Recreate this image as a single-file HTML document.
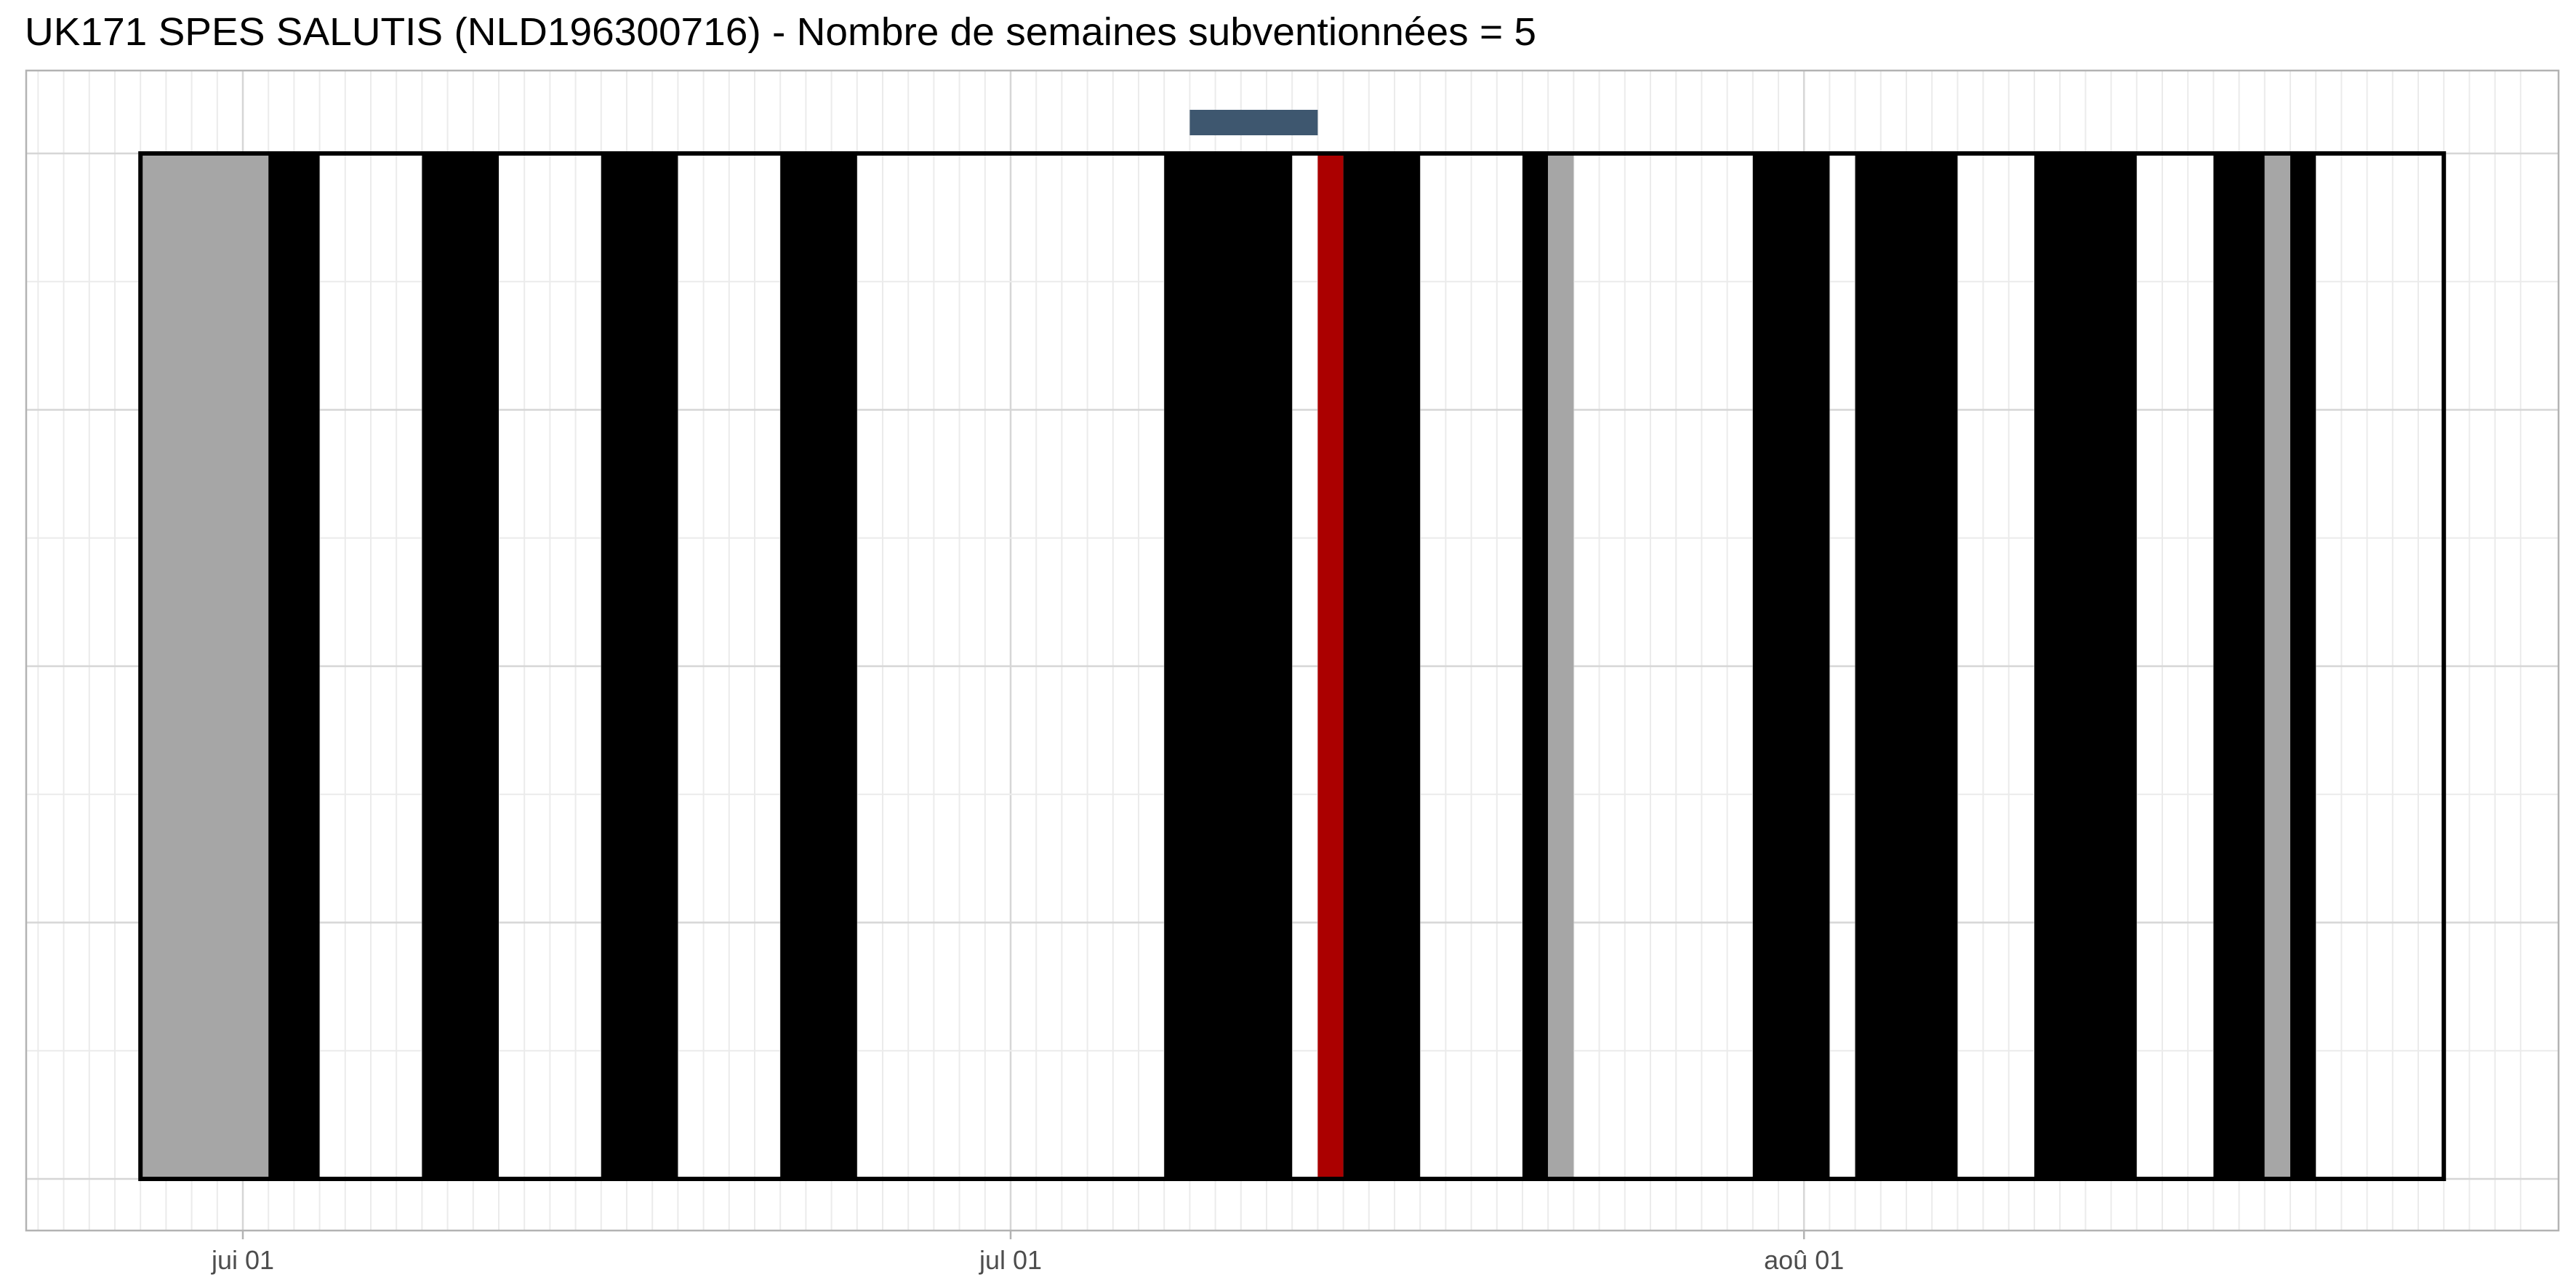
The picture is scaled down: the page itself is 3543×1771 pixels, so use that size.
<!DOCTYPE html>
<html><head><meta charset="utf-8"><style>
html,body{margin:0;padding:0;background:#fff}
svg{display:block}
</style></head><body>
<svg id="chart" width="3543" height="1771" viewBox="0 0 3543 1771" xmlns="http://www.w3.org/2000/svg">
<rect x="0" y="0" width="3543" height="1771" fill="#fff"/>
<text x="34" y="62" font-family="Liberation Sans, sans-serif" font-size="54" fill="#000" textLength="2079" lengthAdjust="spacingAndGlyphs">UK171 SPES SALUTIS (NLD196300716) - Nombre de semaines subventionnées = 5</text>
<g id="grid"></g>
<g id="marks"></g>
<rect x="36" y="97" width="3483" height="1595" fill="none" stroke="#b3b3b3" stroke-width="2.5"/>
<g id="axis"></g>
</svg>
<script>
// day offsets relative to 1 June
const tickDays = [0, 30, 61];
const tickLabels = ["jui 01", "jul 01", "aoû 01"];
const segStart = [-4, 1, 7, 14, 21, 36, 42, 43, 50, 51, 59, 63, 70, 77, 79, 80];
const segEnd   = [1, 3, 10, 17, 24, 41, 43, 46, 51, 52, 62, 67, 74, 79, 80, 81];
const segType  = ["grey","black","black","black","black","black","red","black","black","grey","black","black","black","black","grey","black"];
const boxStart = -4, boxEnd = 86;
const subsidyStart = [37];
const subsidyEnd = [42];

const NS = "http://www.w3.org/2000/svg";
const X0 = 334, DW = 35.2;
const x = d => X0 + d * DW;
const PL = 36, PR = 3519, PT = 97, PB = 1692;
const BT = 211, BB = 1621;
const colors = {grey:"#a6a6a6", black:"#000000", red:"#ab0000"};

function mk(tag, attrs, parent) {
  const e = document.createElementNS(NS, tag);
  for (const k in attrs) e.setAttribute(k, attrs[k]);
  parent.appendChild(e);
  return e;
}
const grid = document.getElementById('grid');
const marks = document.getElementById('marks');
const axis = document.getElementById('axis');

for (let d = -8; d <= 89; d++) {
  const xx = x(d);
  if (xx < PL || xx > PR) continue;
  const major = tickDays.includes(d);
  const l = mk('line', {x1: xx, x2: xx, y1: PT, y2: PB, stroke: major ? "#d6d6d6" : "#ebebeb", 'stroke-width': major ? 2.5 : 2}, grid);
  
  
}
const hStep = (BB - BT) / 4;
for (let i = 0; i <= 8; i++) {
  const yy = BT + i * hStep / 2;
  if (yy > PB || yy < PT) continue;
  const major = i % 2 === 0;
  const l = mk('line', {x1: PL, x2: PR, y1: yy, y2: yy, stroke: major ? "#d6d6d6" : "#ebebeb", 'stroke-width': major ? 2.5 : 2}, grid);
  
  
}
for (let i = 0; i < segStart.length; i++) {
  const r = mk('rect', {x: x(segStart[i]), y: BT, width: x(segEnd[i]) - x(segStart[i]), height: BB - BT, fill: colors[segType[i]]}, marks);
  
  
}
const ol = mk('rect', {x: x(boxStart), y: BT, width: x(boxEnd) - x(boxStart), height: BB - BT, fill: "none", stroke: "#000", 'stroke-width': 6}, marks);


for (let i = 0; i < subsidyStart.length; i++) {
  const r = mk('rect', {x: x(subsidyStart[i]), y: 151, width: x(subsidyEnd[i]) - x(subsidyStart[i]), height: 35, fill: "#3e576f"}, marks);
  
  
}
for (let i = 0; i < tickDays.length; i++) {
  const xx = x(tickDays[i]);
  const t = mk('line', {x1: xx, x2: xx, y1: PB, y2: PB + 12, stroke: "#b3b3b3", 'stroke-width': 2.5}, axis);
  
  
  const lb = mk('text', {x: xx, y: 1745, 'text-anchor': 'middle', 'font-family': 'Liberation Sans, sans-serif', 'font-size': 36, fill: '#4d4d4d'}, axis);
  lb.textContent = tickLabels[i];
  
  
}
</script>
</body></html>
